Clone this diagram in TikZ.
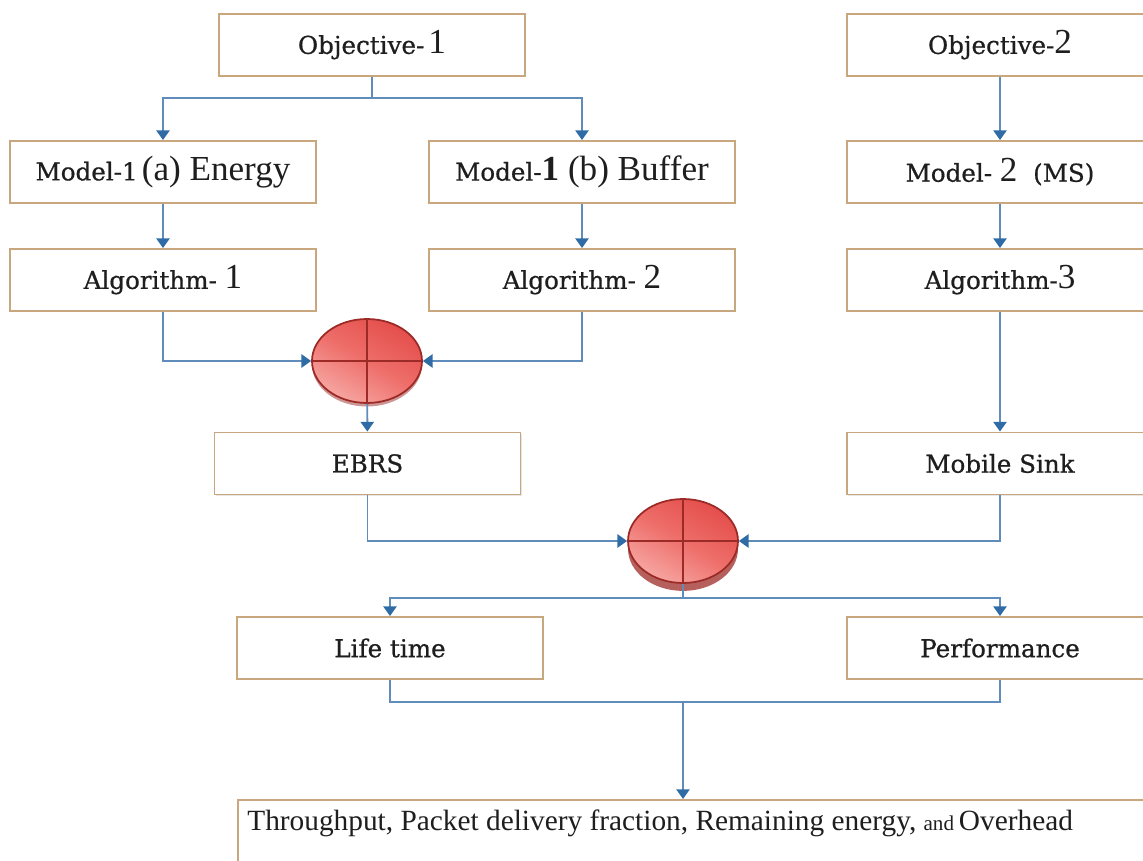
\documentclass[tikz,border=0pt]{standalone}
\usepackage{fontspec}
\setmainfont{Liberation Serif}
\newfontfamily\boxfont[FakeBold=0.7]{DejaVu Serif}
\usetikzlibrary{positioning, arrows.meta, shapes.geometric, shadows}
\definecolor{lnblue}{HTML}{5F8CBB}
\definecolor{tipblue}{HTML}{2F6CA6}
\definecolor{boxtan}{HTML}{C8A67E}
\definecolor{txtgray}{HTML}{1E1E1E}
\definecolor{disclight}{HTML}{F6A6A2}
\definecolor{discmid}{HTML}{EE6E6A}
\definecolor{discred}{HTML}{E44E4B}
\definecolor{discedge}{HTML}{9C2B27}
\tikzset{
  arco/.style={line width=1.1pt, lnblue, -{Triangle[length=5.5pt,width=7.5pt,color=tipblue]}},
  wire/.style={line width=1.1pt, lnblue},
  caja/.style={draw=boxtan, line width=1.1pt, fill=white, text=txtgray,
    minimum width=6.12cm, minimum height=1.24cm, inner sep=2pt,
    drop shadow={shadow xshift=0.8pt, shadow yshift=-0.8pt, opacity=0.2},
    font=\boxfont\fontsize{14}{17}\selectfont},
  disco/.style={ellipse, draw=discedge, line width=1pt, inner sep=0pt,
    minimum width=2.2cm, minimum height=1.68cm,
    top color=discred, bottom color=disclight, middle color=discmid,
    shading angle=-30},
  cruz/.style={discedge, line width=1pt}
}
\newcommand{\dig}[1]{{\rmfamily\fontsize{20}{22}\selectfont #1}}

\begin{document}
\begin{tikzpicture}[x=0.02cm, y=-0.02cm]
  \useasboundingbox (0,0) rectangle (1143,861);

  % objectives, models and algorithms
  \node[caja] (obj1) at (372,45) {Objective-\,\dig{1}};
  \node[caja] (obj2) at (1000,45) {Objective-\dig{2}};
  \node[caja] (m1a) at (163,172) {Model-1\,\dig{(a) Energy}};
  \node[caja] (m1b) at (582,172) {Model-\dig{\textbf{1} (b) Buffer}};
  \node[caja] (m2) at (1000,172) {Model- \dig{2} \ (MS)};
  \node[caja] (alg1) at (163,280) {Algorithm- \dig{1}};
  \node[caja] (alg2) at (582,280) {Algorithm- \dig{2}};
  \node[caja] (alg3) at (1000,280) {Algorithm-\dig{3}};

  % combiners
  \node[disco, drop shadow={shadow xshift=0pt, shadow yshift=-2pt, fill=discedge, opacity=0.5}] (mix1) at (367,361) {};
  \node[disco, drop shadow={shadow xshift=0pt, shadow yshift=-4.5pt, fill=discedge, opacity=0.75}] (mix2) at (683,541) {};
  \draw[cruz] (mix1.north) -- (mix1.south) (mix1.west) -- (mix1.east);
  \draw[cruz] (mix2.north) -- (mix2.south) (mix2.west) -- (mix2.east);

  \node[caja] (ebrs) at (367.5,463.5) {EBRS};
  \node[caja] (sink) at (1000,463.5) {Mobile Sink};
  \node[caja] (life) at (390,648) {Life time};
  \node[caja] (perf) at (1000,648) {Performance};

  % metrics box
  \node[caja, anchor=north west, minimum width=19cm, minimum height=1.6cm] (outbox) at (237,799) {};
  \node[anchor=west, inner sep=0pt, text=txtgray, font=\fontsize{16.7}{20}\selectfont] (outtxt) at (247,823)
    {Throughput, Packet delivery fraction, Remaining energy, {\fontsize{12}{14}\selectfont and}\,Overhead};

  \coordinate (fork1) at (372,98);
  \coordinate (fork2) at (683,598);
  \coordinate (join) at (683,702);

  \draw[wire] (obj1) -- (fork1);
  \draw[arco] (fork1) -| (m1a);
  \draw[arco] (fork1) -| (m1b);
  \draw[arco] (m1a) -- (alg1);
  \draw[arco] (m1b) -- (alg2);
  \draw[arco] (obj2) -- (m2);
  \draw[arco] (m2) -- (alg3);
  \draw[arco] (alg3) -- (sink);

  \draw[arco] (alg1) |- (mix1);
  \draw[arco] (alg2) |- (mix1);
  \draw[arco] (mix1) -- (ebrs);

  \draw[arco] (ebrs) |- (mix2);
  \draw[arco] (sink) |- (mix2);
  \draw[wire] (mix2) -- (fork2);
  \draw[arco] (fork2) -| (life);
  \draw[arco] (fork2) -| (perf);

  \draw[wire] (life) |- (join);
  \draw[wire] (perf) |- (join);
  \draw[arco] (join) -- (join |- outbox.north);
\end{tikzpicture}
\end{document}
